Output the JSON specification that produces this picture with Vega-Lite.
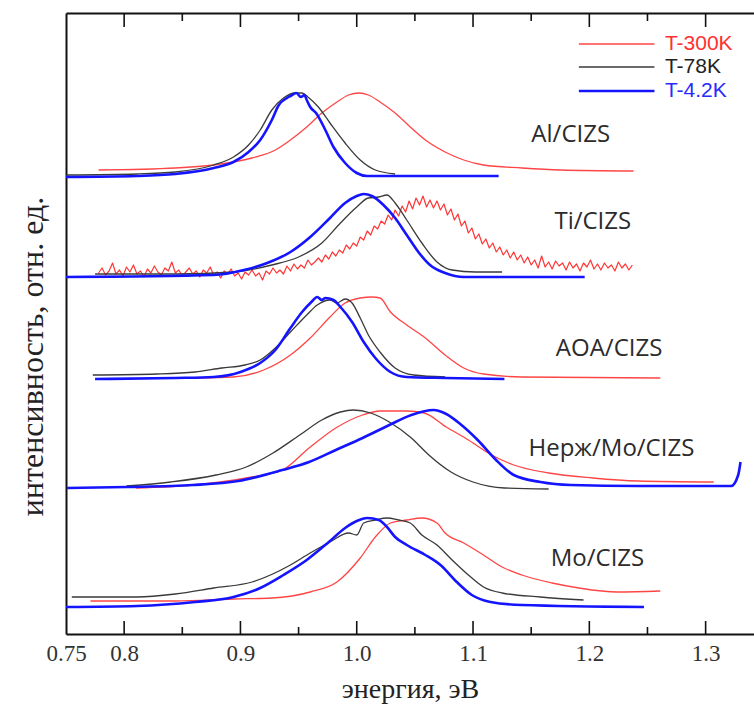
{
  "$schema": "https://vega.github.io/schema/vega-lite/v6.json",
  "width": 688,
  "height": 621,
  "autosize": {"type": "none"},
  "padding": {"left": 66, "top": 13, "right": 0, "bottom": 73},
  "background": "white",
  "config": {"view": {"stroke": null}},
  "datasets": {
    "tk": [
      {"v":0.8,"k":"major"},{"v":0.85,"k":"minor"},{"v":0.9,"k":"major"},{"v":0.95,"k":"minor"},{"v":1.0,"k":"major"},{"v":1.05,"k":"minor"},{"v":1.1,"k":"major"},{"v":1.15,"k":"minor"},{"v":1.2,"k":"major"},{"v":1.25,"k":"minor"},{"v":1.3,"k":"major"}
    ],
    "s": [
      {"p":"Al","T":"T-300K","E":0.778,"I":4.64},{"p":"Al","T":"T-300K","E":0.844,"I":4.66},{"p":"Al","T":"T-300K","E":0.877,"I":4.69},{"p":"Al","T":"T-300K","E":0.91,"I":4.76},{"p":"Al","T":"T-300K","E":0.93,"I":4.84},{"p":"Al","T":"T-300K","E":0.943,"I":4.94},{"p":"Al","T":"T-300K","E":0.957,"I":5.07},{"p":"Al","T":"T-300K","E":0.97,"I":5.21},{"p":"Al","T":"T-300K","E":0.983,"I":5.32},{"p":"Al","T":"T-300K","E":0.993,"I":5.39},{"p":"Al","T":"T-300K","E":1.002,"I":5.41},{"p":"Al","T":"T-300K","E":1.01,"I":5.39},{"p":"Al","T":"T-300K","E":1.02,"I":5.32},{"p":"Al","T":"T-300K","E":1.033,"I":5.21},{"p":"Al","T":"T-300K","E":1.046,"I":5.07},{"p":"Al","T":"T-300K","E":1.059,"I":4.94},{"p":"Al","T":"T-300K","E":1.076,"I":4.82},{"p":"Al","T":"T-300K","E":1.092,"I":4.74},{"p":"Al","T":"T-300K","E":1.109,"I":4.69},{"p":"Al","T":"T-300K","E":1.142,"I":4.66},{"p":"Al","T":"T-300K","E":1.175,"I":4.64},{"p":"Al","T":"T-300K","E":1.238,"I":4.63},
      {"p":"Al","T":"T-78K","E":0.75,"I":4.59},{"p":"Al","T":"T-78K","E":0.811,"I":4.6},{"p":"Al","T":"T-78K","E":0.844,"I":4.62},{"p":"Al","T":"T-78K","E":0.877,"I":4.69},{"p":"Al","T":"T-78K","E":0.894,"I":4.77},{"p":"Al","T":"T-78K","E":0.907,"I":4.89},{"p":"Al","T":"T-78K","E":0.917,"I":5.04},{"p":"Al","T":"T-78K","E":0.927,"I":5.24},{"p":"Al","T":"T-78K","E":0.937,"I":5.36},{"p":"Al","T":"T-78K","E":0.947,"I":5.41},{"p":"Al","T":"T-78K","E":0.953,"I":5.41},{"p":"Al","T":"T-78K","E":0.958,"I":5.37},{"p":"Al","T":"T-78K","E":0.967,"I":5.27},{"p":"Al","T":"T-78K","E":0.977,"I":5.11},{"p":"Al","T":"T-78K","E":0.99,"I":4.91},{"p":"Al","T":"T-78K","E":1.003,"I":4.74},{"p":"Al","T":"T-78K","E":1.016,"I":4.64},{"p":"Al","T":"T-78K","E":1.033,"I":4.6},
      {"p":"Al","T":"T-4.2K","E":0.75,"I":4.57},{"p":"Al","T":"T-4.2K","E":0.811,"I":4.58},{"p":"Al","T":"T-4.2K","E":0.844,"I":4.6},{"p":"Al","T":"T-4.2K","E":0.877,"I":4.66},{"p":"Al","T":"T-4.2K","E":0.894,"I":4.72},{"p":"Al","T":"T-4.2K","E":0.907,"I":4.82},{"p":"Al","T":"T-4.2K","E":0.917,"I":4.94},{"p":"Al","T":"T-4.2K","E":0.927,"I":5.14},{"p":"Al","T":"T-4.2K","E":0.933,"I":5.29},{"p":"Al","T":"T-4.2K","E":0.94,"I":5.36},{"p":"Al","T":"T-4.2K","E":0.943,"I":5.38},{"p":"Al","T":"T-4.2K","E":0.948,"I":5.41},{"p":"Al","T":"T-4.2K","E":0.952,"I":5.37},{"p":"Al","T":"T-4.2K","E":0.955,"I":5.39},{"p":"Al","T":"T-4.2K","E":0.957,"I":5.34},{"p":"Al","T":"T-4.2K","E":0.96,"I":5.27},{"p":"Al","T":"T-4.2K","E":0.965,"I":5.21},{"p":"Al","T":"T-4.2K","E":0.973,"I":5.04},{"p":"Al","T":"T-4.2K","E":0.98,"I":4.87},{"p":"Al","T":"T-4.2K","E":0.99,"I":4.71},{"p":"Al","T":"T-4.2K","E":1.0,"I":4.61},{"p":"Al","T":"T-4.2K","E":1.009,"I":4.58},{"p":"Al","T":"T-4.2K","E":1.122,"I":4.58},

      {"p":"Ti","T":"T-300K","E":0.778,"I":3.61},{"p":"Ti","T":"T-300K","E":0.781,"I":3.66},{"p":"Ti","T":"T-300K","E":0.784,"I":3.59},{"p":"Ti","T":"T-300K","E":0.787,"I":3.63},{"p":"Ti","T":"T-300K","E":0.79,"I":3.71},{"p":"Ti","T":"T-300K","E":0.793,"I":3.6},{"p":"Ti","T":"T-300K","E":0.796,"I":3.64},{"p":"Ti","T":"T-300K","E":0.799,"I":3.58},{"p":"Ti","T":"T-300K","E":0.802,"I":3.67},{"p":"Ti","T":"T-300K","E":0.805,"I":3.62},{"p":"Ti","T":"T-300K","E":0.808,"I":3.69},{"p":"Ti","T":"T-300K","E":0.811,"I":3.6},{"p":"Ti","T":"T-300K","E":0.814,"I":3.63},{"p":"Ti","T":"T-300K","E":0.817,"I":3.57},{"p":"Ti","T":"T-300K","E":0.82,"I":3.65},{"p":"Ti","T":"T-300K","E":0.823,"I":3.61},{"p":"Ti","T":"T-300K","E":0.826,"I":3.68},{"p":"Ti","T":"T-300K","E":0.829,"I":3.62},{"p":"Ti","T":"T-300K","E":0.832,"I":3.59},{"p":"Ti","T":"T-300K","E":0.835,"I":3.66},{"p":"Ti","T":"T-300K","E":0.838,"I":3.63},{"p":"Ti","T":"T-300K","E":0.841,"I":3.72},{"p":"Ti","T":"T-300K","E":0.844,"I":3.61},{"p":"Ti","T":"T-300K","E":0.847,"I":3.64},{"p":"Ti","T":"T-300K","E":0.85,"I":3.58},{"p":"Ti","T":"T-300K","E":0.853,"I":3.62},{"p":"Ti","T":"T-300K","E":0.856,"I":3.66},{"p":"Ti","T":"T-300K","E":0.859,"I":3.6},{"p":"Ti","T":"T-300K","E":0.862,"I":3.63},{"p":"Ti","T":"T-300K","E":0.865,"I":3.57},{"p":"Ti","T":"T-300K","E":0.868,"I":3.64},{"p":"Ti","T":"T-300K","E":0.871,"I":3.61},{"p":"Ti","T":"T-300K","E":0.874,"I":3.67},{"p":"Ti","T":"T-300K","E":0.877,"I":3.59},{"p":"Ti","T":"T-300K","E":0.88,"I":3.62},{"p":"Ti","T":"T-300K","E":0.883,"I":3.56},{"p":"Ti","T":"T-300K","E":0.886,"I":3.63},{"p":"Ti","T":"T-300K","E":0.889,"I":3.6},{"p":"Ti","T":"T-300K","E":0.892,"I":3.65},{"p":"Ti","T":"T-300K","E":0.895,"I":3.58},{"p":"Ti","T":"T-300K","E":0.898,"I":3.61},{"p":"Ti","T":"T-300K","E":0.901,"I":3.55},{"p":"Ti","T":"T-300K","E":0.904,"I":3.62},{"p":"Ti","T":"T-300K","E":0.907,"I":3.59},{"p":"Ti","T":"T-300K","E":0.91,"I":3.64},{"p":"Ti","T":"T-300K","E":0.913,"I":3.58},{"p":"Ti","T":"T-300K","E":0.916,"I":3.61},{"p":"Ti","T":"T-300K","E":0.919,"I":3.54},{"p":"Ti","T":"T-300K","E":0.922,"I":3.63},{"p":"Ti","T":"T-300K","E":0.925,"I":3.6},{"p":"Ti","T":"T-300K","E":0.928,"I":3.66},{"p":"Ti","T":"T-300K","E":0.931,"I":3.61},{"p":"Ti","T":"T-300K","E":0.934,"I":3.64},{"p":"Ti","T":"T-300K","E":0.937,"I":3.6},{"p":"Ti","T":"T-300K","E":0.94,"I":3.68},{"p":"Ti","T":"T-300K","E":0.943,"I":3.63},{"p":"Ti","T":"T-300K","E":0.946,"I":3.7},{"p":"Ti","T":"T-300K","E":0.949,"I":3.65},{"p":"Ti","T":"T-300K","E":0.952,"I":3.69},{"p":"Ti","T":"T-300K","E":0.955,"I":3.66},{"p":"Ti","T":"T-300K","E":0.958,"I":3.74},{"p":"Ti","T":"T-300K","E":0.961,"I":3.69},{"p":"Ti","T":"T-300K","E":0.964,"I":3.72},{"p":"Ti","T":"T-300K","E":0.967,"I":3.76},{"p":"Ti","T":"T-300K","E":0.97,"I":3.72},{"p":"Ti","T":"T-300K","E":0.973,"I":3.79},{"p":"Ti","T":"T-300K","E":0.976,"I":3.75},{"p":"Ti","T":"T-300K","E":0.979,"I":3.82},{"p":"Ti","T":"T-300K","E":0.982,"I":3.78},{"p":"Ti","T":"T-300K","E":0.985,"I":3.84},{"p":"Ti","T":"T-300K","E":0.988,"I":3.81},{"p":"Ti","T":"T-300K","E":0.991,"I":3.89},{"p":"Ti","T":"T-300K","E":0.994,"I":3.85},{"p":"Ti","T":"T-300K","E":0.997,"I":3.91},{"p":"Ti","T":"T-300K","E":1.0,"I":3.88},{"p":"Ti","T":"T-300K","E":1.003,"I":3.97},{"p":"Ti","T":"T-300K","E":1.006,"I":3.94},{"p":"Ti","T":"T-300K","E":1.009,"I":4.03},{"p":"Ti","T":"T-300K","E":1.012,"I":3.99},{"p":"Ti","T":"T-300K","E":1.015,"I":4.08},{"p":"Ti","T":"T-300K","E":1.018,"I":4.05},{"p":"Ti","T":"T-300K","E":1.021,"I":4.13},{"p":"Ti","T":"T-300K","E":1.024,"I":4.1},{"p":"Ti","T":"T-300K","E":1.027,"I":4.19},{"p":"Ti","T":"T-300K","E":1.03,"I":4.14},{"p":"Ti","T":"T-300K","E":1.033,"I":4.24},{"p":"Ti","T":"T-300K","E":1.036,"I":4.18},{"p":"Ti","T":"T-300K","E":1.039,"I":4.28},{"p":"Ti","T":"T-300K","E":1.042,"I":4.22},{"p":"Ti","T":"T-300K","E":1.045,"I":4.33},{"p":"Ti","T":"T-300K","E":1.048,"I":4.25},{"p":"Ti","T":"T-300K","E":1.051,"I":4.36},{"p":"Ti","T":"T-300K","E":1.054,"I":4.29},{"p":"Ti","T":"T-300K","E":1.057,"I":4.38},{"p":"Ti","T":"T-300K","E":1.06,"I":4.27},{"p":"Ti","T":"T-300K","E":1.063,"I":4.34},{"p":"Ti","T":"T-300K","E":1.066,"I":4.26},{"p":"Ti","T":"T-300K","E":1.069,"I":4.33},{"p":"Ti","T":"T-300K","E":1.072,"I":4.24},{"p":"Ti","T":"T-300K","E":1.075,"I":4.3},{"p":"Ti","T":"T-300K","E":1.078,"I":4.19},{"p":"Ti","T":"T-300K","E":1.081,"I":4.25},{"p":"Ti","T":"T-300K","E":1.084,"I":4.14},{"p":"Ti","T":"T-300K","E":1.087,"I":4.2},{"p":"Ti","T":"T-300K","E":1.09,"I":4.08},{"p":"Ti","T":"T-300K","E":1.093,"I":4.13},{"p":"Ti","T":"T-300K","E":1.096,"I":4.01},{"p":"Ti","T":"T-300K","E":1.099,"I":4.06},{"p":"Ti","T":"T-300K","E":1.102,"I":3.95},{"p":"Ti","T":"T-300K","E":1.105,"I":4.0},{"p":"Ti","T":"T-300K","E":1.108,"I":3.9},{"p":"Ti","T":"T-300K","E":1.111,"I":3.95},{"p":"Ti","T":"T-300K","E":1.114,"I":3.86},{"p":"Ti","T":"T-300K","E":1.117,"I":3.91},{"p":"Ti","T":"T-300K","E":1.12,"I":3.82},{"p":"Ti","T":"T-300K","E":1.123,"I":3.87},{"p":"Ti","T":"T-300K","E":1.126,"I":3.79},{"p":"Ti","T":"T-300K","E":1.129,"I":3.84},{"p":"Ti","T":"T-300K","E":1.132,"I":3.76},{"p":"Ti","T":"T-300K","E":1.135,"I":3.82},{"p":"Ti","T":"T-300K","E":1.138,"I":3.74},{"p":"Ti","T":"T-300K","E":1.141,"I":3.79},{"p":"Ti","T":"T-300K","E":1.144,"I":3.71},{"p":"Ti","T":"T-300K","E":1.147,"I":3.77},{"p":"Ti","T":"T-300K","E":1.15,"I":3.69},{"p":"Ti","T":"T-300K","E":1.153,"I":3.74},{"p":"Ti","T":"T-300K","E":1.156,"I":3.66},{"p":"Ti","T":"T-300K","E":1.159,"I":3.78},{"p":"Ti","T":"T-300K","E":1.162,"I":3.67},{"p":"Ti","T":"T-300K","E":1.165,"I":3.72},{"p":"Ti","T":"T-300K","E":1.168,"I":3.65},{"p":"Ti","T":"T-300K","E":1.171,"I":3.73},{"p":"Ti","T":"T-300K","E":1.174,"I":3.68},{"p":"Ti","T":"T-300K","E":1.177,"I":3.71},{"p":"Ti","T":"T-300K","E":1.18,"I":3.64},{"p":"Ti","T":"T-300K","E":1.183,"I":3.72},{"p":"Ti","T":"T-300K","E":1.186,"I":3.66},{"p":"Ti","T":"T-300K","E":1.189,"I":3.7},{"p":"Ti","T":"T-300K","E":1.192,"I":3.63},{"p":"Ti","T":"T-300K","E":1.195,"I":3.71},{"p":"Ti","T":"T-300K","E":1.198,"I":3.67},{"p":"Ti","T":"T-300K","E":1.201,"I":3.74},{"p":"Ti","T":"T-300K","E":1.204,"I":3.65},{"p":"Ti","T":"T-300K","E":1.207,"I":3.7},{"p":"Ti","T":"T-300K","E":1.21,"I":3.64},{"p":"Ti","T":"T-300K","E":1.213,"I":3.71},{"p":"Ti","T":"T-300K","E":1.216,"I":3.66},{"p":"Ti","T":"T-300K","E":1.219,"I":3.69},{"p":"Ti","T":"T-300K","E":1.222,"I":3.63},{"p":"Ti","T":"T-300K","E":1.225,"I":3.72},{"p":"Ti","T":"T-300K","E":1.228,"I":3.66},{"p":"Ti","T":"T-300K","E":1.231,"I":3.7},{"p":"Ti","T":"T-300K","E":1.234,"I":3.64},{"p":"Ti","T":"T-300K","E":1.237,"I":3.69},
      {"p":"Ti","T":"T-78K","E":0.775,"I":3.6},{"p":"Ti","T":"T-78K","E":0.844,"I":3.6},{"p":"Ti","T":"T-78K","E":0.894,"I":3.62},{"p":"Ti","T":"T-78K","E":0.927,"I":3.69},{"p":"Ti","T":"T-78K","E":0.95,"I":3.77},{"p":"Ti","T":"T-78K","E":0.97,"I":3.91},{"p":"Ti","T":"T-78K","E":0.986,"I":4.11},{"p":"Ti","T":"T-78K","E":1.0,"I":4.27},{"p":"Ti","T":"T-78K","E":1.01,"I":4.36},{"p":"Ti","T":"T-78K","E":1.019,"I":4.37},{"p":"Ti","T":"T-78K","E":1.026,"I":4.39},{"p":"Ti","T":"T-78K","E":1.033,"I":4.31},{"p":"Ti","T":"T-78K","E":1.043,"I":4.14},{"p":"Ti","T":"T-78K","E":1.056,"I":3.91},{"p":"Ti","T":"T-78K","E":1.069,"I":3.72},{"p":"Ti","T":"T-78K","E":1.082,"I":3.64},{"p":"Ti","T":"T-78K","E":1.102,"I":3.62},{"p":"Ti","T":"T-78K","E":1.125,"I":3.62},
      {"p":"Ti","T":"T-4.2K","E":0.75,"I":3.57},{"p":"Ti","T":"T-4.2K","E":0.877,"I":3.59},{"p":"Ti","T":"T-4.2K","E":0.903,"I":3.64},{"p":"Ti","T":"T-4.2K","E":0.923,"I":3.71},{"p":"Ti","T":"T-4.2K","E":0.943,"I":3.82},{"p":"Ti","T":"T-4.2K","E":0.96,"I":3.97},{"p":"Ti","T":"T-4.2K","E":0.977,"I":4.16},{"p":"Ti","T":"T-4.2K","E":0.99,"I":4.31},{"p":"Ti","T":"T-4.2K","E":1.0,"I":4.38},{"p":"Ti","T":"T-4.2K","E":1.006,"I":4.4},{"p":"Ti","T":"T-4.2K","E":1.013,"I":4.38},{"p":"Ti","T":"T-4.2K","E":1.023,"I":4.29},{"p":"Ti","T":"T-4.2K","E":1.033,"I":4.16},{"p":"Ti","T":"T-4.2K","E":1.043,"I":3.99},{"p":"Ti","T":"T-4.2K","E":1.053,"I":3.82},{"p":"Ti","T":"T-4.2K","E":1.063,"I":3.69},{"p":"Ti","T":"T-4.2K","E":1.076,"I":3.61},{"p":"Ti","T":"T-4.2K","E":1.092,"I":3.57},{"p":"Ti","T":"T-4.2K","E":1.196,"I":3.57},

      {"p":"AOA","T":"T-300K","E":0.861,"I":2.56},{"p":"AOA","T":"T-300K","E":0.894,"I":2.57},{"p":"AOA","T":"T-300K","E":0.92,"I":2.64},{"p":"AOA","T":"T-300K","E":0.943,"I":2.79},{"p":"AOA","T":"T-300K","E":0.96,"I":2.96},{"p":"AOA","T":"T-300K","E":0.977,"I":3.17},{"p":"AOA","T":"T-300K","E":0.99,"I":3.31},{"p":"AOA","T":"T-300K","E":1.003,"I":3.36},{"p":"AOA","T":"T-300K","E":1.013,"I":3.37},{"p":"AOA","T":"T-300K","E":1.02,"I":3.36},{"p":"AOA","T":"T-300K","E":1.029,"I":3.22},{"p":"AOA","T":"T-300K","E":1.043,"I":3.09},{"p":"AOA","T":"T-300K","E":1.059,"I":2.96},{"p":"AOA","T":"T-300K","E":1.076,"I":2.79},{"p":"AOA","T":"T-300K","E":1.092,"I":2.66},{"p":"AOA","T":"T-300K","E":1.109,"I":2.6},{"p":"AOA","T":"T-300K","E":1.142,"I":2.57},{"p":"AOA","T":"T-300K","E":1.261,"I":2.56},
      {"p":"AOA","T":"T-78K","E":0.773,"I":2.59},{"p":"AOA","T":"T-78K","E":0.828,"I":2.6},{"p":"AOA","T":"T-78K","E":0.861,"I":2.62},{"p":"AOA","T":"T-78K","E":0.884,"I":2.66},{"p":"AOA","T":"T-78K","E":0.904,"I":2.69},{"p":"AOA","T":"T-78K","E":0.917,"I":2.74},{"p":"AOA","T":"T-78K","E":0.93,"I":2.86},{"p":"AOA","T":"T-78K","E":0.943,"I":3.02},{"p":"AOA","T":"T-78K","E":0.957,"I":3.19},{"p":"AOA","T":"T-78K","E":0.966,"I":3.29},{"p":"AOA","T":"T-78K","E":0.977,"I":3.34},{"p":"AOA","T":"T-78K","E":0.983,"I":3.31},{"p":"AOA","T":"T-78K","E":0.99,"I":3.35},{"p":"AOA","T":"T-78K","E":0.996,"I":3.31},{"p":"AOA","T":"T-78K","E":1.003,"I":3.16},{"p":"AOA","T":"T-78K","E":1.01,"I":2.99},{"p":"AOA","T":"T-78K","E":1.02,"I":2.82},{"p":"AOA","T":"T-78K","E":1.033,"I":2.66},{"p":"AOA","T":"T-78K","E":1.049,"I":2.59},{"p":"AOA","T":"T-78K","E":1.076,"I":2.57},
      {"p":"AOA","T":"T-4.2K","E":0.775,"I":2.55},{"p":"AOA","T":"T-4.2K","E":0.844,"I":2.56},{"p":"AOA","T":"T-4.2K","E":0.877,"I":2.57},{"p":"AOA","T":"T-4.2K","E":0.9,"I":2.62},{"p":"AOA","T":"T-4.2K","E":0.917,"I":2.71},{"p":"AOA","T":"T-4.2K","E":0.93,"I":2.84},{"p":"AOA","T":"T-4.2K","E":0.943,"I":3.06},{"p":"AOA","T":"T-4.2K","E":0.953,"I":3.22},{"p":"AOA","T":"T-4.2K","E":0.961,"I":3.32},{"p":"AOA","T":"T-4.2K","E":0.966,"I":3.37},{"p":"AOA","T":"T-4.2K","E":0.97,"I":3.34},{"p":"AOA","T":"T-4.2K","E":0.973,"I":3.36},{"p":"AOA","T":"T-4.2K","E":0.98,"I":3.34},{"p":"AOA","T":"T-4.2K","E":0.986,"I":3.27},{"p":"AOA","T":"T-4.2K","E":0.996,"I":3.12},{"p":"AOA","T":"T-4.2K","E":1.006,"I":2.92},{"p":"AOA","T":"T-4.2K","E":1.016,"I":2.76},{"p":"AOA","T":"T-4.2K","E":1.029,"I":2.62},{"p":"AOA","T":"T-4.2K","E":1.043,"I":2.57},{"p":"AOA","T":"T-4.2K","E":1.076,"I":2.56},{"p":"AOA","T":"T-4.2K","E":1.127,"I":2.55},

      {"p":"SS","T":"T-300K","E":0.81,"I":1.46},{"p":"SS","T":"T-300K","E":0.859,"I":1.49},{"p":"SS","T":"T-300K","E":0.905,"I":1.56},{"p":"SS","T":"T-300K","E":0.936,"I":1.64},{"p":"SS","T":"T-300K","E":0.959,"I":1.86},{"p":"SS","T":"T-300K","E":0.982,"I":2.06},{"p":"SS","T":"T-300K","E":1.005,"I":2.19},{"p":"SS","T":"T-300K","E":1.02,"I":2.23},{"p":"SS","T":"T-300K","E":1.043,"I":2.23},{"p":"SS","T":"T-300K","E":1.058,"I":2.21},{"p":"SS","T":"T-300K","E":1.077,"I":2.07},{"p":"SS","T":"T-300K","E":1.096,"I":1.94},{"p":"SS","T":"T-300K","E":1.116,"I":1.79},{"p":"SS","T":"T-300K","E":1.135,"I":1.69},{"p":"SS","T":"T-300K","E":1.165,"I":1.61},{"p":"SS","T":"T-300K","E":1.203,"I":1.56},{"p":"SS","T":"T-300K","E":1.242,"I":1.53},{"p":"SS","T":"T-300K","E":1.307,"I":1.52},
      {"p":"SS","T":"T-78K","E":0.802,"I":1.48},{"p":"SS","T":"T-78K","E":0.84,"I":1.52},{"p":"SS","T":"T-78K","E":0.879,"I":1.59},{"p":"SS","T":"T-78K","E":0.905,"I":1.67},{"p":"SS","T":"T-78K","E":0.928,"I":1.81},{"p":"SS","T":"T-78K","E":0.951,"I":1.99},{"p":"SS","T":"T-78K","E":0.97,"I":2.14},{"p":"SS","T":"T-78K","E":0.986,"I":2.22},{"p":"SS","T":"T-78K","E":0.997,"I":2.24},{"p":"SS","T":"T-78K","E":1.012,"I":2.21},{"p":"SS","T":"T-78K","E":1.028,"I":2.12},{"p":"SS","T":"T-78K","E":1.047,"I":1.96},{"p":"SS","T":"T-78K","E":1.062,"I":1.79},{"p":"SS","T":"T-78K","E":1.081,"I":1.62},{"p":"SS","T":"T-78K","E":1.1,"I":1.52},{"p":"SS","T":"T-78K","E":1.127,"I":1.46},{"p":"SS","T":"T-78K","E":1.165,"I":1.45},
      {"p":"SS","T":"T-4.2K","E":0.751,"I":1.46},{"p":"SS","T":"T-4.2K","E":0.802,"I":1.47},{"p":"SS","T":"T-4.2K","E":0.859,"I":1.49},{"p":"SS","T":"T-4.2K","E":0.898,"I":1.53},{"p":"SS","T":"T-4.2K","E":0.936,"I":1.64},{"p":"SS","T":"T-4.2K","E":0.959,"I":1.72},{"p":"SS","T":"T-4.2K","E":0.982,"I":1.84},{"p":"SS","T":"T-4.2K","E":1.005,"I":1.96},{"p":"SS","T":"T-4.2K","E":1.028,"I":2.09},{"p":"SS","T":"T-4.2K","E":1.047,"I":2.19},{"p":"SS","T":"T-4.2K","E":1.066,"I":2.24},{"p":"SS","T":"T-4.2K","E":1.077,"I":2.2},{"p":"SS","T":"T-4.2K","E":1.089,"I":2.1},{"p":"SS","T":"T-4.2K","E":1.104,"I":1.94},{"p":"SS","T":"T-4.2K","E":1.119,"I":1.75},{"p":"SS","T":"T-4.2K","E":1.135,"I":1.59},{"p":"SS","T":"T-4.2K","E":1.158,"I":1.52},{"p":"SS","T":"T-4.2K","E":1.184,"I":1.49},{"p":"SS","T":"T-4.2K","E":1.242,"I":1.48},{"p":"SS","T":"T-4.2K","E":1.28,"I":1.48},{"p":"SS","T":"T-4.2K","E":1.322,"I":1.48},{"p":"SS","T":"T-4.2K","E":1.328,"I":1.59},{"p":"SS","T":"T-4.2K","E":1.33,"I":1.72},

      {"p":"Mo","T":"T-300K","E":0.771,"I":0.33},{"p":"Mo","T":"T-300K","E":0.844,"I":0.33},{"p":"Mo","T":"T-300K","E":0.894,"I":0.35},{"p":"Mo","T":"T-300K","E":0.927,"I":0.36},{"p":"Mo","T":"T-300K","E":0.96,"I":0.42},{"p":"Mo","T":"T-300K","E":0.983,"I":0.52},{"p":"Mo","T":"T-300K","E":1.003,"I":0.76},{"p":"Mo","T":"T-300K","E":1.016,"I":0.97},{"p":"Mo","T":"T-300K","E":1.029,"I":1.11},{"p":"Mo","T":"T-300K","E":1.043,"I":1.14},{"p":"Mo","T":"T-300K","E":1.056,"I":1.16},{"p":"Mo","T":"T-300K","E":1.069,"I":1.11},{"p":"Mo","T":"T-300K","E":1.076,"I":1.01},{"p":"Mo","T":"T-300K","E":1.092,"I":0.91},{"p":"Mo","T":"T-300K","E":1.109,"I":0.79},{"p":"Mo","T":"T-300K","E":1.125,"I":0.67},{"p":"Mo","T":"T-300K","E":1.142,"I":0.59},{"p":"Mo","T":"T-300K","E":1.168,"I":0.51},{"p":"Mo","T":"T-300K","E":1.191,"I":0.46},{"p":"Mo","T":"T-300K","E":1.224,"I":0.42},{"p":"Mo","T":"T-300K","E":1.261,"I":0.43},
      {"p":"Mo","T":"T-78K","E":0.755,"I":0.37},{"p":"Mo","T":"T-78K","E":0.811,"I":0.37},{"p":"Mo","T":"T-78K","E":0.844,"I":0.4},{"p":"Mo","T":"T-78K","E":0.877,"I":0.46},{"p":"Mo","T":"T-78K","E":0.91,"I":0.52},{"p":"Mo","T":"T-78K","E":0.943,"I":0.69},{"p":"Mo","T":"T-78K","E":0.96,"I":0.81},{"p":"Mo","T":"T-78K","E":0.977,"I":0.92},{"p":"Mo","T":"T-78K","E":0.993,"I":1.01},{"p":"Mo","T":"T-78K","E":1.0,"I":0.99},{"p":"Mo","T":"T-78K","E":1.006,"I":1.11},{"p":"Mo","T":"T-78K","E":1.016,"I":1.14},{"p":"Mo","T":"T-78K","E":1.026,"I":1.16},{"p":"Mo","T":"T-78K","E":1.036,"I":1.14},{"p":"Mo","T":"T-78K","E":1.046,"I":1.11},{"p":"Mo","T":"T-78K","E":1.056,"I":0.99},{"p":"Mo","T":"T-78K","E":1.069,"I":0.89},{"p":"Mo","T":"T-78K","E":1.082,"I":0.74},{"p":"Mo","T":"T-78K","E":1.096,"I":0.59},{"p":"Mo","T":"T-78K","E":1.109,"I":0.47},{"p":"Mo","T":"T-78K","E":1.125,"I":0.41},{"p":"Mo","T":"T-78K","E":1.158,"I":0.37},{"p":"Mo","T":"T-78K","E":1.195,"I":0.34},
      {"p":"Mo","T":"T-4.2K","E":0.75,"I":0.27},{"p":"Mo","T":"T-4.2K","E":0.811,"I":0.28},{"p":"Mo","T":"T-4.2K","E":0.861,"I":0.32},{"p":"Mo","T":"T-4.2K","E":0.894,"I":0.37},{"p":"Mo","T":"T-4.2K","E":0.917,"I":0.46},{"p":"Mo","T":"T-4.2K","E":0.937,"I":0.59},{"p":"Mo","T":"T-4.2K","E":0.957,"I":0.74},{"p":"Mo","T":"T-4.2K","E":0.976,"I":0.92},{"p":"Mo","T":"T-4.2K","E":0.99,"I":1.06},{"p":"Mo","T":"T-4.2K","E":1.0,"I":1.13},{"p":"Mo","T":"T-4.2K","E":1.009,"I":1.16},{"p":"Mo","T":"T-4.2K","E":1.019,"I":1.14},{"p":"Mo","T":"T-4.2K","E":1.026,"I":1.07},{"p":"Mo","T":"T-4.2K","E":1.033,"I":0.97},{"p":"Mo","T":"T-4.2K","E":1.043,"I":0.89},{"p":"Mo","T":"T-4.2K","E":1.059,"I":0.79},{"p":"Mo","T":"T-4.2K","E":1.072,"I":0.69},{"p":"Mo","T":"T-4.2K","E":1.086,"I":0.52},{"p":"Mo","T":"T-4.2K","E":1.099,"I":0.39},{"p":"Mo","T":"T-4.2K","E":1.115,"I":0.32},{"p":"Mo","T":"T-4.2K","E":1.142,"I":0.29},{"p":"Mo","T":"T-4.2K","E":1.247,"I":0.27}
    ]
  },
  "layer": [
    {
      "data": {"name": "s"},
      "transform": [{"filter": "datum.T == 'T-300K' && datum.p != 'Ti'"}],
      "mark": {"type": "line", "color": "#ff4545", "strokeWidth": 1.3, "strokeJoin": "round", "interpolate": "monotone"},
      "encoding": {
        "x": {"field": "E", "type": "quantitative",
          "scale": {"domain": [0.75, 1.3416], "nice": false, "zero": false},
          "axis": {"orient": "bottom", "values": [0.75,0.8,0.9,1.0,1.1,1.2,1.3],
            "labelExpr": "round(datum.value*100)==75 ? '0.75' : format(datum.value, '.1f')",
            "ticks": false, "domainColor": "#111", "domainWidth": 2,
            "labelFont": "Liberation Serif", "labelFontSize": 23, "labelColor": "#333", "labelPadding": 8,
            "labelFlush": false, "labelOverlap": false, "grid": false,
            "title": "энергия, эВ", "titleFont": "Liberation Serif", "titleFontSize": 28, "titleFontWeight": "normal", "titleColor": "#222", "titlePadding": 10}},
        "y": {"field": "I", "type": "quantitative",
          "scale": {"domain": [0, 6.21], "nice": false, "zero": false},
          "axis": {"orient": "left", "ticks": false, "labels": false, "grid": false, "domainColor": "#111", "domainWidth": 2,
            "title": "интенсивность, отн. ед.", "titleFont": "Liberation Serif", "titleFontSize": 32, "titleFontWeight": "normal", "titleColor": "#222", "titlePadding": 17, "titleY": 343}},
        "detail": {"field": "p", "type": "nominal"}
      }
    },
    {
      "data": {"name": "s"},
      "transform": [{"filter": "datum.T == 'T-300K' && datum.p == 'Ti'"}],
      "mark": {"type": "line", "color": "#ff3535", "strokeWidth": 1.2, "strokeJoin": "round"},
      "encoding": {
        "x": {"field": "E", "type": "quantitative",
          "axis": {"orient": "top", "labels": false, "ticks": false, "domainColor": "#111", "domainWidth": 2, "grid": false, "title": null}},
        "y": {"field": "I", "type": "quantitative", "axis": null}
      }
    },
    {
      "data": {"name": "s"},
      "transform": [{"filter": "datum.T == 'T-78K'"}],
      "mark": {"type": "line", "color": "#3a3a3a", "strokeWidth": 1.3, "strokeJoin": "round", "interpolate": "monotone"},
      "encoding": {
        "x": {"field": "E", "type": "quantitative", "axis": null},
        "y": {"field": "I", "type": "quantitative", "axis": null},
        "detail": {"field": "p", "type": "nominal"}
      }
    },
    {
      "data": {"name": "s"},
      "transform": [{"filter": "datum.T == 'T-4.2K'"}],
      "mark": {"type": "line", "color": "#1414ff", "strokeWidth": 2.6, "strokeJoin": "round", "interpolate": "monotone"},
      "encoding": {
        "x": {"field": "E", "type": "quantitative", "axis": null},
        "y": {"field": "I", "type": "quantitative", "axis": null},
        "detail": {"field": "p", "type": "nominal"}
      }
    },
    {"data": {"name": "tk"}, "transform": [{"filter": "datum.k == 'major'"}],
     "mark": {"type": "tick", "orient": "vertical", "color": "#111111", "size": 13, "thickness": 1.6, "opacity": 1},
     "encoding": {"x": {"field": "v", "type": "quantitative", "axis": null}, "y": {"datum": 0.065, "type": "quantitative", "axis": null}}},
    {"data": {"name": "tk"}, "transform": [{"filter": "datum.k == 'minor'"}],
     "mark": {"type": "tick", "orient": "vertical", "color": "#111111", "size": 7, "thickness": 1.6, "opacity": 1},
     "encoding": {"x": {"field": "v", "type": "quantitative", "axis": null}, "y": {"datum": 0.035, "type": "quantitative", "axis": null}}},
    {"data": {"name": "tk"}, "transform": [{"filter": "datum.k == 'major'"}],
     "mark": {"type": "tick", "orient": "vertical", "color": "#111111", "size": 14, "thickness": 1.6, "opacity": 1},
     "encoding": {"x": {"field": "v", "type": "quantitative", "axis": null}, "y": {"datum": 6.14, "type": "quantitative", "axis": null}}},
    {"data": {"name": "tk"}, "transform": [{"filter": "datum.k == 'minor'"}],
     "mark": {"type": "tick", "orient": "vertical", "color": "#111111", "size": 8, "thickness": 1.6, "opacity": 1},
     "encoding": {"x": {"field": "v", "type": "quantitative", "axis": null}, "y": {"datum": 6.17, "type": "quantitative", "axis": null}}},
    {"data": {"values": [{}]}, "mark": {"type": "text", "text": "Al/CIZS", "font": "Open Sans", "fontSize": 24, "color": "#2b2b2b", "align": "center", "baseline": "middle"},
     "encoding": {"x": {"datum": 1.184, "type": "quantitative", "axis": null}, "y": {"datum": 4.99, "type": "quantitative", "axis": null}}},
    {"data": {"values": [{}]}, "mark": {"type": "text", "text": "Ti/CIZS", "font": "Open Sans", "fontSize": 24, "color": "#2b2b2b", "align": "center", "baseline": "middle"},
     "encoding": {"x": {"datum": 1.203, "type": "quantitative", "axis": null}, "y": {"datum": 4.12, "type": "quantitative", "axis": null}}},
    {"data": {"values": [{}]}, "mark": {"type": "text", "text": "AOA/CIZS", "font": "Open Sans", "fontSize": 24, "color": "#2b2b2b", "align": "center", "baseline": "middle"},
     "encoding": {"x": {"datum": 1.217, "type": "quantitative", "axis": null}, "y": {"datum": 2.85, "type": "quantitative", "axis": null}}},
    {"data": {"values": [{}]}, "mark": {"type": "text", "text": "Нерж/Mo/CIZS", "font": "Open Sans", "fontSize": 24, "color": "#2b2b2b", "align": "center", "baseline": "middle"},
     "encoding": {"x": {"datum": 1.219, "type": "quantitative", "axis": null}, "y": {"datum": 1.85, "type": "quantitative", "axis": null}}},
    {"data": {"values": [{}]}, "mark": {"type": "text", "text": "Mo/CIZS", "font": "Open Sans", "fontSize": 24, "color": "#2b2b2b", "align": "center", "baseline": "middle"},
     "encoding": {"x": {"datum": 1.207, "type": "quantitative", "axis": null}, "y": {"datum": 0.75, "type": "quantitative", "axis": null}}},
    {"data": {"values": [{}]}, "mark": {"type": "rule", "color": "#ff4545", "strokeWidth": 1.5},
     "encoding": {"x": {"datum": 1.191, "type": "quantitative", "axis": null}, "x2": {"datum": 1.256}, "y": {"datum": 5.9, "type": "quantitative", "axis": null}}},
    {"data": {"values": [{}]}, "mark": {"type": "rule", "color": "#3a3a3a", "strokeWidth": 1.5},
     "encoding": {"x": {"datum": 1.191, "type": "quantitative", "axis": null}, "x2": {"datum": 1.256}, "y": {"datum": 5.67, "type": "quantitative", "axis": null}}},
    {"data": {"values": [{}]}, "mark": {"type": "rule", "color": "#1414ff", "strokeWidth": 2.6},
     "encoding": {"x": {"datum": 1.191, "type": "quantitative", "axis": null}, "x2": {"datum": 1.256}, "y": {"datum": 5.43, "type": "quantitative", "axis": null}}},
    {"data": {"values": [{}]}, "mark": {"type": "text", "text": "T-300K", "font": "Liberation Sans", "fontSize": 21, "color": "#ff3030", "align": "left", "baseline": "middle"},
     "encoding": {"x": {"datum": 1.265, "type": "quantitative", "axis": null}, "y": {"datum": 5.9, "type": "quantitative", "axis": null}}},
    {"data": {"values": [{}]}, "mark": {"type": "text", "text": "T-78K", "font": "Liberation Sans", "fontSize": 21, "color": "#222222", "align": "left", "baseline": "middle"},
     "encoding": {"x": {"datum": 1.265, "type": "quantitative", "axis": null}, "y": {"datum": 5.67, "type": "quantitative", "axis": null}}},
    {"data": {"values": [{}]}, "mark": {"type": "text", "text": "T-4.2K", "font": "Liberation Sans", "fontSize": 21, "color": "#2a2aff", "align": "left", "baseline": "middle"},
     "encoding": {"x": {"datum": 1.265, "type": "quantitative", "axis": null}, "y": {"datum": 5.43, "type": "quantitative", "axis": null}}}
  ],
  "resolve": {"axis": {"x": "independent", "y": "independent"}}
}
